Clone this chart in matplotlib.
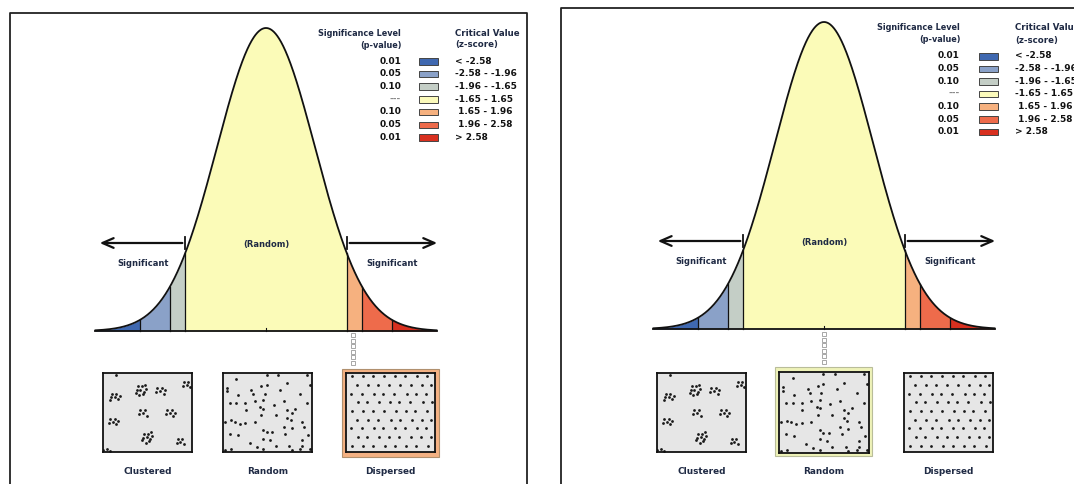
import numpy as np
import matplotlib
matplotlib.use("Agg")
import matplotlib.pyplot as plt
from matplotlib.patches import Rectangle

W, H = 1074, 484

# legend / band data
p_levels = ['0.01', '0.05', '0.10', '---', '0.10', '0.05', '0.01']
z_ranges = ['< -2.58', '-2.58 - -1.96', '-1.96 - -1.65', '-1.65 - 1.65',
            ' 1.65 - 1.96', ' 1.96 - 2.58', '> 2.58']
band_colors = ['#3f68b0', '#8aa1c8', '#c4cec6', '#fbfabb', '#f6b17f', '#ee6b4b', '#d8301f']
z_breaks = [-2.58, -1.96, -1.65, 1.65, 1.96, 2.58]
z_tail = 3.48

# clustered pattern (box units 0-100, y down)
clu_cx = [13, 42, 64, 94, 45, 75, 11, 49, 87, 4]
clu_cy = [30, 21, 23, 15, 51, 51, 62, 81, 87, 96]
clu_n = [7, 10, 6, 5, 5, 6, 6, 10, 5, 3]
clu_dx = [0, 4, -4, 2, -3, 6, -5, 3, -1, 5]
clu_dy = [0, 3, 1, -4, -4, -1, 4, 5, 7, -6]
clu_extra = [(15, 2)]

# random pattern
rnd_x = [15, 49, 62, 49, 72, 94, 98, 4, 4, 17, 32, 34, 43, 47, 64, 87, 15, 25, 8, 36,
         45, 57, 68, 42, 26, 45, 72, 77, 81, 94, 2, 9, 13, 19, 25, 36, 43, 59, 72, 76,
         89, 91, 8, 17, 45, 49, 55, 68, 70, 77, 96, 45, 53, 30, 38, 9, 2, 45, 59, 74,
         77, 89, 89, 98, 87]
rnd_y = [8, 2, 2, 15, 13, 2, 15, 19, 23, 28, 21, 26, 17, 26, 21, 26, 38, 38, 38, 36,
         34, 40, 36, 43, 47, 45, 47, 51, 45, 38, 62, 60, 62, 64, 63, 62, 53, 53, 57, 60,
         62, 68, 77, 79, 72, 75, 75, 68, 77, 70, 79, 83, 85, 89, 94, 96, 97, 96, 92, 92,
         97, 85, 92, 96, 96]

# dispersed pattern: rows of (y, x positions)
disp_rows = [
    (4, [7, 19, 30, 43, 55, 66, 80, 91]),
    (15, [12, 25, 36, 48, 61, 73, 85, 96]),
    (26, [6, 18, 31, 42, 54, 68, 79, 90]),
    (37, [13, 24, 37, 49, 60, 72, 86, 97]),
    (48, [7, 19, 30, 43, 56, 67, 78, 91]),
    (59, [12, 25, 36, 50, 61, 74, 85, 95]),
    (70, [6, 18, 31, 42, 55, 66, 80, 90]),
    (81, [13, 24, 37, 48, 60, 73, 84, 96]),
    (93, [7, 19, 30, 44, 55, 67, 79, 92]),
]

box_names = ['Clustered', 'Random', 'Dispersed']

fig = plt.figure(figsize=(W / 100, H / 100), dpi=100)
ax = fig.add_axes([0, 0, 1, 1])
ax.set_xlim(0, W)
ax.set_ylim(H, 0)
ax.axis('off')

FONT = dict(family='DejaVu Sans', fontweight='bold')


def draw_curve(cx, base, peak, scale=49.0):
    def y_of(z):
        return base - (base - peak) * np.exp(-np.asarray(z) ** 2 / 2)
    edges = [-z_tail] + z_breaks + [z_tail]
    for i, col in enumerate(band_colors):
        zz = np.linspace(edges[i], edges[i + 1], 120)
        col = '#fbfbb8' if i == 3 else col
        ax.fill_between(cx + scale * zz, y_of(zz), base, color=col, lw=0, zorder=1)
    z = np.linspace(-z_tail, z_tail, 800)
    ax.plot(cx + scale * z, y_of(z), color='#111111', lw=1.3, zorder=3)
    ax.plot([cx - scale * z_tail, cx + scale * z_tail], [base, base],
            color='#111111', lw=1.3, zorder=3)
    for zb in z_breaks:
        ax.plot([cx + scale * zb] * 2, [base, y_of(zb)], color='#111111', lw=0.9, zorder=2)
    ax.plot([cx, cx], [base, base - 3], color='#111111', lw=0.8, zorder=3)

    # arrows and labels
    ya = base - 88
    xl0, xl1 = cx - scale * 3.45, cx - scale * 1.65
    xr0, xr1 = cx + scale * 1.65, cx + scale * 3.55
    ax.annotate('', xy=(xl0, ya), xytext=(xl1, ya),
                arrowprops=dict(arrowstyle='->,head_length=0.8,head_width=0.35',
                                lw=1.6, color='#111111'))
    ax.annotate('', xy=(xr1, ya), xytext=(xr0, ya),
                arrowprops=dict(arrowstyle='->,head_length=0.8,head_width=0.35',
                                lw=1.6, color='#111111'))
    ax.plot([xl1, xl1], [ya - 6, ya + 6], color='#111111', lw=1.3)
    ax.plot([xr0, xr0], [ya - 6, ya + 6], color='#111111', lw=1.3)
    ax.text(cx - scale * 2.5, base - 68, 'Significant', ha='center', va='center',
            fontsize=6.0, color='#1f2a44', **FONT)
    ax.text(cx + scale * 2.57, base - 68, 'Significant', ha='center', va='center',
            fontsize=6.0, color='#1f2a44', **FONT)
    ax.text(cx, base - 87, '(Random)', ha='center', va='center',
            fontsize=6.0, color='#1f2a44', **FONT)


def draw_legend(xp, xs, xt, y0, step):
    ax.text(xp, y0, 'Significance Level', ha='right', va='center', fontsize=5.9,
            color='#1f2a44', **FONT)
    ax.text(xp + 1, y0 + 12, '(p-value)', ha='right', va='center', fontsize=5.9,
            color='#1f2a44', **FONT)
    ax.text(xt, y0, 'Critical Value', ha='left', va='center', fontsize=6.2,
            color='#1f2a44', **FONT)
    ax.text(xt, y0 + 12, '(z-score)', ha='left', va='center', fontsize=6.2,
            color='#1f2a44', **FONT)
    for i, (p, r, c) in enumerate(zip(p_levels, z_ranges, band_colors)):
        y = y0 + 28 + i * step
        ax.text(xp, y, p, ha='right', va='center', fontsize=6.5,
                color='#888888' if p == '---' else '#111111', **FONT)
        ax.add_patch(Rectangle((xs, y - 3), 19, 6.5, facecolor=c,
                               edgecolor='#444444', lw=0.7, zorder=3))
        ax.text(xt, y, r, ha='left', va='center', fontsize=6.5, color='#111111', **FONT)


def draw_box(x0, y0, x1, y1, kind):
    bx = fig.add_axes([x0 / W, 1 - y1 / H, (x1 - x0) / W, (y1 - y0) / H])
    bx.set_xlim(0, 100)
    bx.set_ylim(100, 0)
    bx.set_facecolor('#e6e6e6')
    bx.set_xticks([])
    bx.set_yticks([])
    for s in bx.spines.values():
        s.set_color('#111111')
        s.set_linewidth(1.3)
    if kind == 'Clustered':
        px, py = [], []
        for cxx, cyy, n in zip(clu_cx, clu_cy, clu_n):
            px += [cxx + d for d in clu_dx[:n]]
            py += [cyy + d for d in clu_dy[:n]]
        px += [p[0] for p in clu_extra]
        py += [p[1] for p in clu_extra]
    elif kind == 'Random':
        px, py = rnd_x, rnd_y
    else:
        px, py = [], []
        for yy, xs_ in disp_rows:
            px += xs_
            py += [yy] * len(xs_)
    bx.scatter(px, py, s=4.0, color='#1a1a1a', lw=0)
    ax.text((x0 + x1) / 2, 471, kind, ha='center', va='center', fontsize=6.4,
            color='#1f2a44', **FONT)


def connector(x, y0, y1):
    ys = np.arange(y0, y1, 5.5)
    ax.plot([x] * len(ys), ys, ls='none', marker='s', ms=2.4, mfc='white',
            mec='#999999', mew=0.6)


# panel frames
ax.plot([10, 10, 527, 527], [H, 13, 13, H], color='#222222', lw=1.3)
ax.plot([561, 561, W + 5], [H, 8, 8], color='#222222', lw=1.3)

# left panel
draw_curve(266, 331, 28)
draw_legend(401, 419, 455, 33, 12.7)
ax.add_patch(Rectangle((342, 369), 97, 88, facecolor='#f4b183', edgecolor='#b0906e', lw=0.8))
connector(353, 335, 368)
for (bx0, bx1), name in zip([(103, 192), (223, 312), (346, 435)], box_names):
    draw_box(bx0, 373, bx1, 452, name)

# right panel
draw_curve(824, 329, 22)
draw_legend(960, 979, 1015, 28, 12.6)
ax.add_patch(Rectangle((775, 367), 97, 89, facecolor='#eef2b8', edgecolor='#b9bd9a', lw=0.8))
connector(824, 334, 366)
draw_box(657, 373, 746, 452, 'Clustered')
draw_box(779, 372, 869, 453, 'Random')
draw_box(904, 373, 993, 452, 'Dispersed')

fig.savefig('out.png', dpi=100)
